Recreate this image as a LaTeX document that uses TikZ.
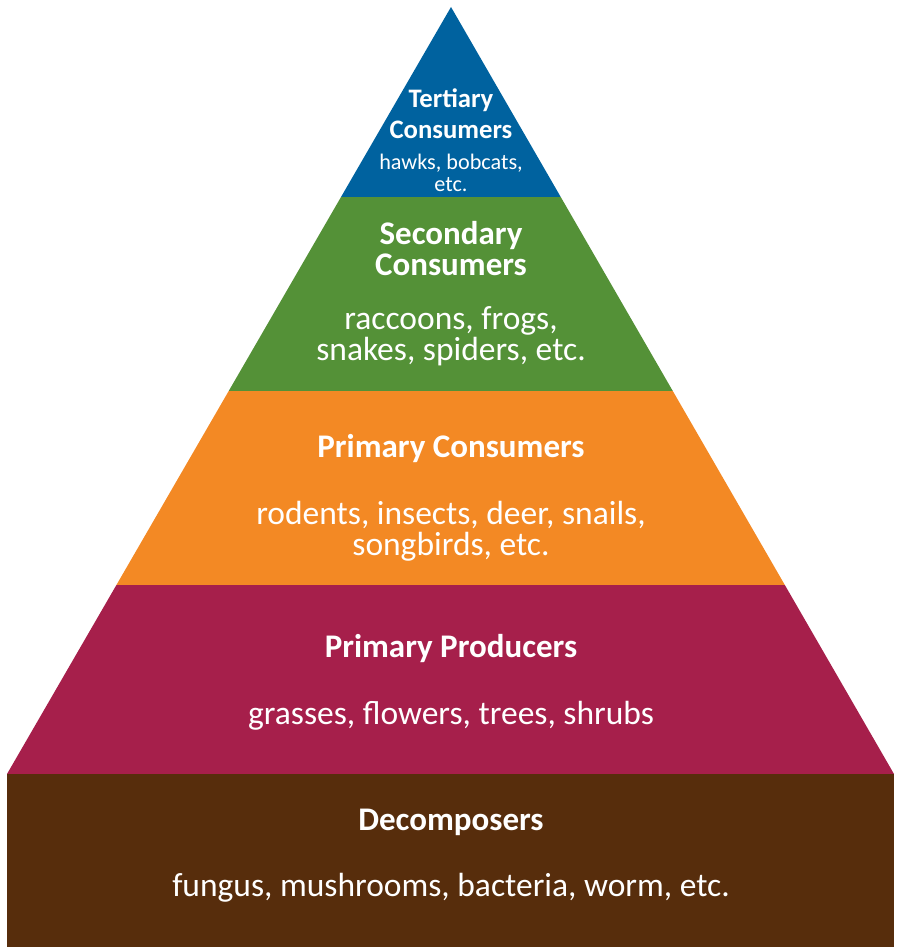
\documentclass[tikz,border=0pt]{standalone}
\usepackage{fontspec}
\setmainfont{Carlito}
\definecolor{tblue}{RGB}{0,98,159}
\definecolor{tgreen}{RGB}{84,145,55}
\definecolor{torange}{RGB}{243,137,36}
\definecolor{tred}{RGB}{166,31,75}
\definecolor{tbrown}{RGB}{87,45,12}
\tikzset{
  ttl/.style={text=white,anchor=base,inner sep=0pt,font=\fontsize{33}{35}\selectfont\bfseries},
  sub/.style={text=white,anchor=base,inner sep=0pt,font=\fontsize{33.5}{35}\selectfont},
  ttls/.style={text=white,anchor=base,inner sep=0pt,font=\fontsize{26.7}{28}\selectfont\bfseries},
  subs/.style={text=white,anchor=base,inner sep=0pt,font=\fontsize{22.2}{24}\selectfont},
  upper/.style={text depth=0pt},
}
\begin{document}
\begin{tikzpicture}[x=1pt,y=-1pt]
\useasboundingbox (0,0) rectangle (899,947);
\fill[tbrown] (7,774) rectangle (894,947);
\begin{scope}
\clip (451,7) -- (894,774) -- (7,774) -- cycle;
\fill[tblue] (0,0) rectangle (899,197);
\fill[tgreen] (0,197) rectangle (899,391);
\fill[torange] (0,391) rectangle (899,585);
\fill[tred] (0,585) rectangle (899,774);
\end{scope}
\node[ttls,upper] (t1) at (451,108) {Tertiary};
\node[ttls,upper] (t2) at (451,139) {Consumers};
\node[subs,upper] (t3) at (451,169) {hawks, bobcats,};
\node[subs] (t4) at (451,191) {etc.};
\node[ttl,upper] (s1) at (451,244) {Secondary};
\node[ttl] (s2) at (451,275) {Consumers};
\node[sub,upper] (s3) at (451,329) {raccoons, frogs,};
\node[sub] (s4) at (451,360) {snakes, spiders, etc.};
\node[ttl] (p1) at (451,457) {Primary Consumers};
\node[sub,upper] (p2) at (451,524) {rodents, insects, deer, snails,};
\node[sub] (p3) at (451,555) {songbirds, etc.};
\node[ttl] (r1) at (451,657) {Primary Producers};
\node[sub] (r2) at (451,724) {grasses, flowers, trees, shrubs};
\node[ttl] (d1) at (451,830) {Decomposers};
\node[sub] (d2) at (451,896) {fungus, mushrooms, bacteria, worm, etc.};
\end{tikzpicture}
\end{document}
